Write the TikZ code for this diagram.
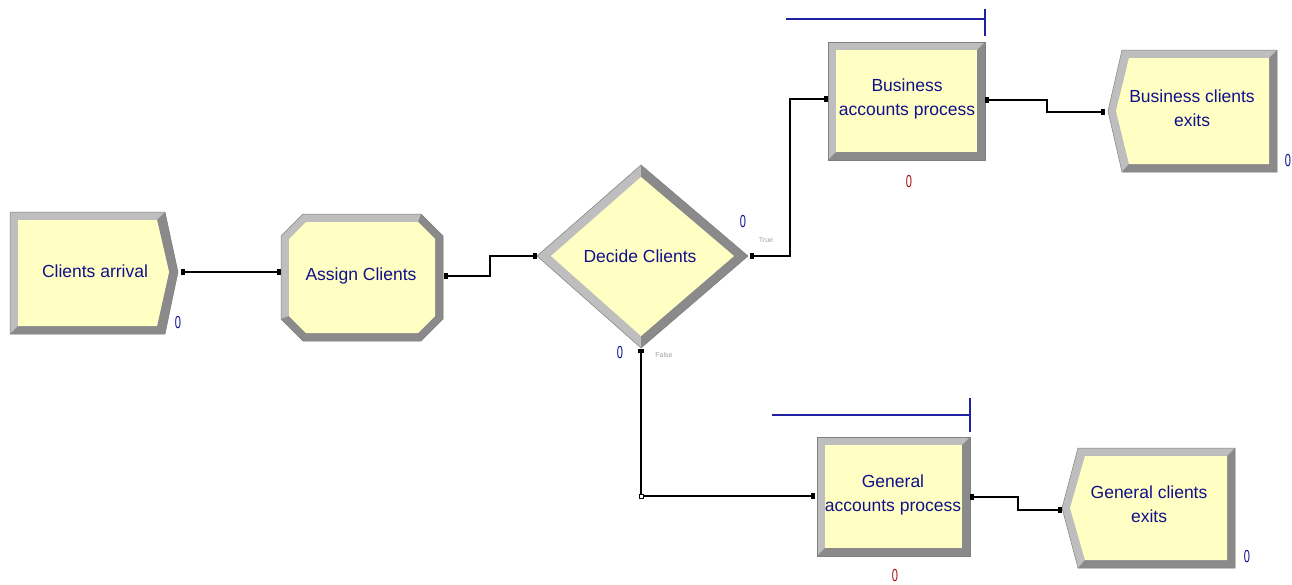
\documentclass[tikz,border=0pt]{standalone}
\usepackage{fontspec}
\setmainfont{Liberation Sans}
\definecolor{modfill}{HTML}{FFFFC4}
\definecolor{bevlight}{HTML}{BEBEBE}
\definecolor{bevdark}{HTML}{8A8A8A}
\definecolor{navytext}{HTML}{10108A}
\definecolor{qline}{HTML}{2020A0}
\definecolor{cntred}{HTML}{A01010}
\definecolor{tfgray}{HTML}{A0A0A0}
\begin{document}
\begin{tikzpicture}[x=1pt,y=-1pt,
  lbl/.style={text=navytext,font=\fontsize{17.5}{24.5}\selectfont,align=center,inner sep=0pt},
  cnt/.style={text=navytext,font=\fontsize{13}{13}\selectfont,inner sep=0pt,yscale=-1.35,xscale=0.85},
  cntr/.style={cnt,text=cntred},
  tf/.style={text=tfgray,font=\fontsize{7}{7}\selectfont,inner sep=0pt},
  conn/.style={line width=1.3pt,black},
  port/.style={fill=black,minimum width=4pt,minimum height=6pt,inner sep=0pt},
  qbar/.style={qline,line width=1.2pt},
  rim/.style={draw=gray,line width=0.5pt}]
\useasboundingbox (0,0) rectangle (1292,584);

% ---------- Clients arrival (Create)
\fill[bevlight] (10,212) -- (165,212) -- (178,272) -- (165,334) -- (10,334) -- cycle;
\fill[bevdark] (165,212) -- (178,272) -- (165,334) -- (10,334) -- (18,326) -- (157,326) -- (169,272) -- (157,220) -- cycle;
\fill[modfill] (18,220) -- (157,220) -- (169,272) -- (157,326) -- (18,326) -- cycle;
\draw[rim] (10,212) -- (165,212) -- (178,272) -- (165,334) -- (10,334) -- cycle;
\node[lbl] (ca) at (95,271) {Clients arrival};
\coordinate (caE) at (183,272);
\node[cnt] at (178,323) {0};

% ---------- Assign Clients (octagon)
\fill[bevlight] (303,214) -- (421,214) -- (443,236) -- (443,319) -- (421,341) -- (303,341) -- (281,319) -- (281,236) -- cycle;
\fill[bevdark] (421,214) -- (443,236) -- (443,319) -- (421,341) -- (303,341) -- (281,319) -- (289,316) -- (306,333) -- (418,333) -- (435,316) -- (435,239) -- (418,222) -- cycle;
\fill[modfill] (306,222) -- (418,222) -- (435,239) -- (435,316) -- (418,333) -- (306,333) -- (289,316) -- (289,239) -- cycle;
\draw[rim] (303,214) -- (421,214) -- (443,236) -- (443,319) -- (421,341) -- (303,341) -- (281,319) -- (281,236) -- cycle;
\node[lbl] (as) at (361,276) {Assign Clients};
\coordinate (asW) at (279,272);
\coordinate (asE) at (446,276);

% ---------- Decide Clients (diamond)
\fill[bevlight] (537,256) -- (641,165) -- (748,256) -- (641,348) -- cycle;
\fill[bevdark] (641,165) -- (748,256) -- (641,348) -- (641,336) -- (734,256) -- (641,177) -- cycle;
\fill[modfill] (551,256) -- (641,177) -- (734,256) -- (641,336) -- cycle;
\draw[rim] (537,256) -- (641,165) -- (748,256) -- (641,348) -- cycle;
\node[lbl] (dc) at (640,256) {Decide Clients};
\coordinate (dcW) at (535,256);
\coordinate (dcE) at (752,256);
\coordinate (dcS) at (641,351);
\node[cnt] at (743,222) {0};
\node[cnt] at (620,353) {0};
\node[tf] at (766,240) {True};
\node[tf] at (664,355) {False};

% ---------- Business accounts process
\draw[qbar] (786,19) -- (985,19);
\draw[qbar] (985,9) -- (985,36);
\fill[bevlight] (828,42) rectangle (985,160);
\fill[bevdark] (985,42) -- (985,160) -- (828,160) -- (836,152) -- (977,152) -- (977,50) -- cycle;
\fill[modfill] (836,50) rectangle (977,152);
\draw[rim] (828,42) rectangle (985,160);
\node[lbl] (bp) at (907,99) {Business\\accounts process};
\coordinate (bpW) at (826,99);
\coordinate (bpE) at (987,100);
\node[cntr] at (909,182) {0};

% ---------- Business clients exits (Dispose)
\fill[bevlight] (1122,50) -- (1277,50) -- (1277,172) -- (1122,172) -- (1108,111) -- cycle;
\fill[bevdark] (1277,50) -- (1277,172) -- (1122,172) -- (1129,164) -- (1269,164) -- (1269,58) -- cycle;
\fill[modfill] (1129,58) -- (1269,58) -- (1269,164) -- (1129,164) -- (1116,111) -- cycle;
\draw[rim] (1122,50) -- (1277,50) -- (1277,172) -- (1122,172) -- (1108,111) -- cycle;
\node[lbl] (be) at (1192,108) {Business clients\\exits};
\coordinate (beW) at (1103,112);
\node[cnt] at (1288,161) {0};

% ---------- General accounts process
\draw[qbar] (772,415) -- (970,415);
\draw[qbar] (970,398) -- (970,432);
\fill[bevlight] (817,437) rectangle (970,556);
\fill[bevdark] (970,437) -- (970,556) -- (817,556) -- (825,548) -- (962,548) -- (962,445) -- cycle;
\fill[modfill] (825,445) rectangle (962,548);
\draw[rim] (817,437) rectangle (970,556);
\node[lbl] (gp) at (893,495) {General\\accounts process};
\coordinate (gpW) at (813,496);
\coordinate (gpE) at (972,497);
\node[cntr] at (895,576) {0};

% ---------- General clients exits (Dispose)
\fill[bevlight] (1078,448) -- (1235,448) -- (1235,568) -- (1078,568) -- (1062,508) -- cycle;
\fill[bevdark] (1235,448) -- (1235,568) -- (1078,568) -- (1085,560) -- (1227,560) -- (1227,456) -- cycle;
\fill[modfill] (1085,456) -- (1227,456) -- (1227,560) -- (1085,560) -- (1070,508) -- cycle;
\draw[rim] (1078,448) -- (1235,448) -- (1235,568) -- (1078,568) -- (1062,508) -- cycle;
\node[lbl] (ge) at (1149,504) {General clients\\exits};
\coordinate (geW) at (1060,510);
\node[cnt] at (1247,557) {0};

% ---------- Connectors
\draw[conn] (caE) -- (asW);
\draw[conn] (asE) -- ++(44,0) |- (dcW);
\draw[conn] (dcE) -- ++(38,0) |- (bpW);
\draw[conn] (bpE) -- ++(60,0) |- (beW);
\draw[conn] (dcS) |- (gpW);
\draw[conn] (gpE) -- ++(46,0) |- (geW);

% ---------- Ports
\node[port] at (caE) {};
\node[port] at (asW) {};
\node[port] at (asE) {};
\node[port] at (dcW) {};
\node[port] at (dcE) {};
\node[port,minimum width=6pt,minimum height=4pt] at (dcS) {};
\node[port] at (bpW) {};
\node[port] at (bpE) {};
\node[port] at (beW) {};
\node[port] at (gpW) {};
\node[port] at (gpE) {};
\node[port] at (geW) {};
\node[draw=black,fill=white,minimum size=4pt,inner sep=0pt,line width=0.8pt] at (dcS |- gpW) {};
\end{tikzpicture}
\end{document}
